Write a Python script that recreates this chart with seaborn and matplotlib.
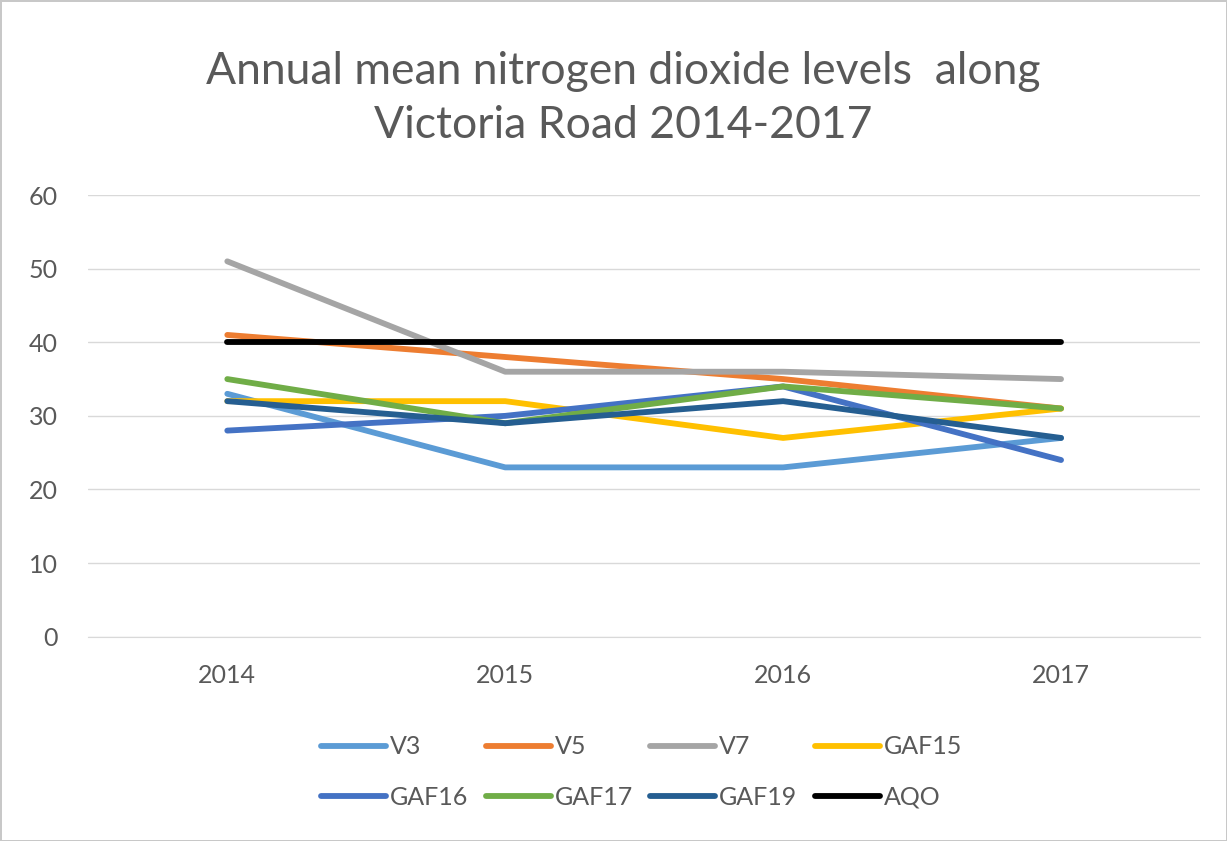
import numpy as np
import matplotlib.pyplot as plt
import seaborn as sns
import pandas as pd

years = [2014, 2015, 2016, 2017]
stations = ["V3", "V5", "V7", "GAF15", "GAF16", "GAF17", "GAF19", "AQO"]
v3 = [33, 23, 23, 27]
v5 = [41, 38, 35, 31]
v7 = [51, 36, 36, 35]
gaf15 = [32, 32, 27, 31]
gaf16 = [28, 30, 34, 24]
gaf17 = [35, 29, 34, 31]
gaf19 = [32, 29, 32, 27]
aqo = [40, 40, 40, 40]
colors = ["#5B9BD5", "#ED7D31", "#A5A5A5", "#FFC000", "#4472C4", "#70AD47", "#255E91", "#000000"]

series = [v3, v5, v7, gaf15, gaf16, gaf17, gaf19, aqo]
df = pd.DataFrame({
    "year": years * len(stations),
    "station": [s for s in stations for _ in years],
    "value": [v for vals in series for v in vals],
})

sns.set_style("white")
plt.rcParams['font.family'] = ['Lato', 'DejaVu Sans']

fig = plt.figure(figsize=(12.27, 8.41), dpi=100, edgecolor="#c8c8c8", linewidth=2)
ax = fig.add_axes([0.072, 0.243, 0.906, 0.525])

sns.lineplot(data=df, x="year", y="value", hue="station", hue_order=stations,
             palette=colors, linewidth=4.2, ax=ax, legend=True)

ax.set_ylim(0, 60)
ax.set_xlim(2013.5, 2017.5)
ax.set_xticks(years)
ax.set_xticklabels([str(y) for y in years])
ax.set_yticks(range(0, 61, 10))
ax.yaxis.grid(True, color="#d9d9d9", linewidth=1)
ax.set_axisbelow(True)
for s in ["top", "right", "left"]:
    ax.spines[s].set_visible(False)
ax.spines["bottom"].set_color("#d9d9d9")
ax.tick_params(axis="both", colors="#595959", labelsize=18, length=0)
ax.tick_params(axis="x", pad=20)
ax.tick_params(axis="y", pad=22)
ax.set_xlabel("")
ax.set_ylabel("")

fig.text(0.508, 0.883, "Annual mean nitrogen dioxide levels  along\nVictoria Road 2014-2017",
         ha="center", va="center", fontsize=32, color="#595959", linespacing=1.4)

handles, labels = ax.get_legend_handles_labels()
ax.legend_.remove()
# matplotlib fills legend columns first; reorder so the entries read across rows
order = [0, 4, 1, 5, 2, 6, 3, 7]
leg = fig.legend([handles[i] for i in order], [labels[i] for i in order],
                 loc="center", bbox_to_anchor=(0.523, 0.082), ncol=4,
                 frameon=False, fontsize=18, handlelength=2.6, handletextpad=0.15,
                 columnspacing=0.7, labelspacing=1.1, labelcolor="#595959")
for line in leg.get_lines():
    line.set_linewidth(4.2)

fig.savefig("out.png", dpi=100)
